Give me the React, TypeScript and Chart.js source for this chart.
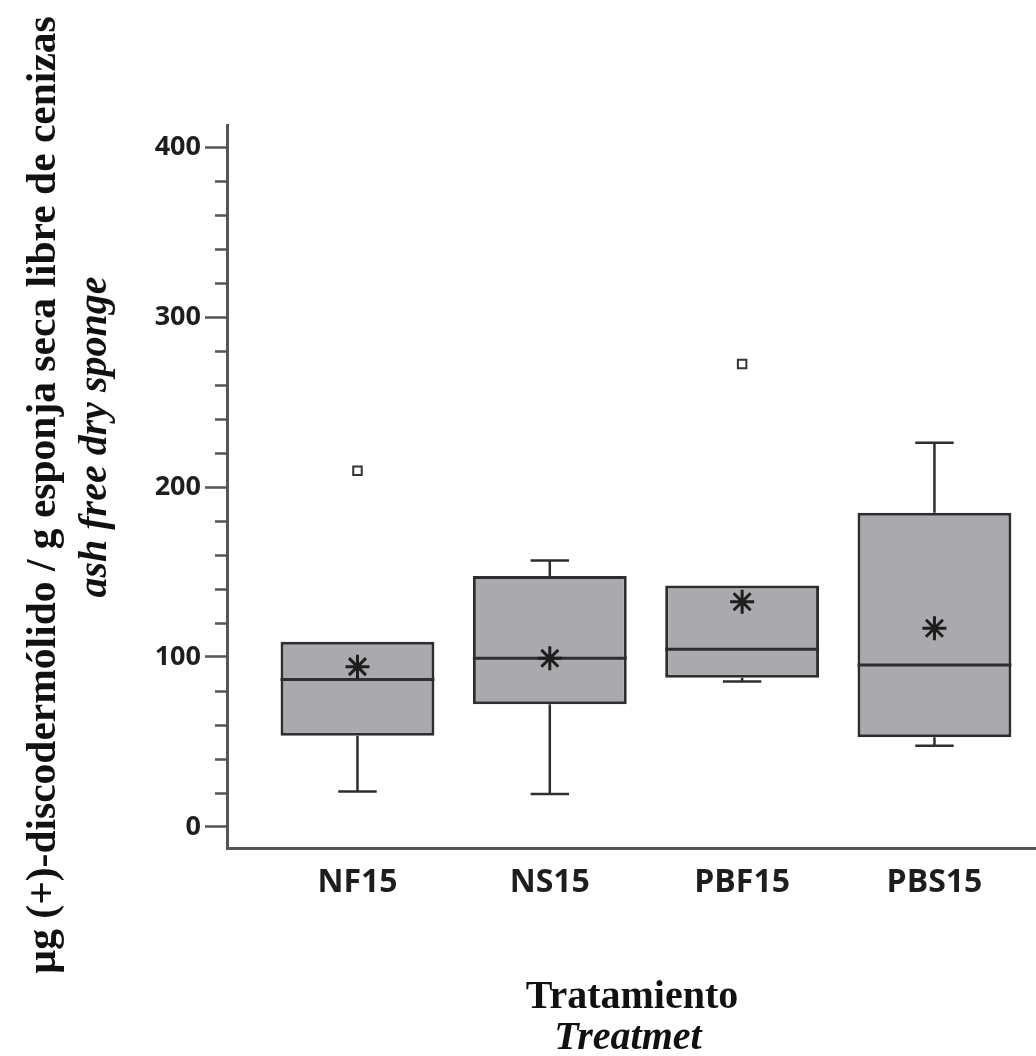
import React, { useEffect, useRef } from "react";
import { Chart, registerables } from "chart.js";

Chart.register(...registerables);

const categories = ["NF15", "NS15", "PBF15", "PBS15"];
const q1Values = [53.7, 72.2, 87.8, 52.8];
const q3Values = [109, 147.6, 142, 184.9];
const medianValues = [86.8, 99.2, 104.5, 95.3];
const whiskerLow = [20.8, 19.4, 85.5, 47.8];
const whiskerHigh = [109, 156.7, 142, 226];
const meanValues = [94.3, 99.2, 132.5, 116.9];
const outlierValues: (number | null)[] = [209.6, null, 272.4, null];
const yMajorTicks = [0, 100, 200, 300, 400];
const yMinorStep = 20;

const yTitle1 = "µg (+)-discodermólido / g esponja seca libre de cenizas";
const yTitle2 = "ash free dry sponge";
const xTitle1 = "Tratamiento";
const xTitle2 = "Treatmet";

const AXIS_COLOR = "#555555";
const LINE_COLOR = "#2e2e2e";

const extrasPlugin = {
  id: "boxExtras",
  beforeDatasetsDraw(chart: any) {
    const ctx = chart.ctx;
    const xs = chart.scales.x;
    const ys = chart.scales.y;
    ctx.save();
    ctx.strokeStyle = LINE_COLOR;
    ctx.lineWidth = 2.5;
    const capHalf = xs.getPixelForValue(1.1) - xs.getPixelForValue(1);
    categories.forEach((_, i) => {
      const cx = xs.getPixelForValue(i + 1);
      const pairs: [number, number][] = [
        [whiskerLow[i], q1Values[i]],
        [whiskerHigh[i], q3Values[i]],
      ];
      pairs.forEach(([w, q]) => {
        if (Math.abs(w - q) < 0.01) return;
        const yw = ys.getPixelForValue(w);
        const yq = ys.getPixelForValue(q);
        ctx.beginPath();
        ctx.moveTo(cx, yw);
        ctx.lineTo(cx, yq);
        ctx.moveTo(cx - capHalf, yw);
        ctx.lineTo(cx + capHalf, yw);
        ctx.stroke();
      });
    });
    ctx.restore();
  },
  afterDatasetDraw(chart: any, args: any) {
    if (args.index !== 0) return;
    const ctx = chart.ctx;
    const ys = chart.scales.y;
    const meta = chart.getDatasetMeta(0);
    ctx.save();
    ctx.strokeStyle = LINE_COLOR;
    ctx.lineWidth = 3;
    meta.data.forEach((bar: any, i: number) => {
      const half = bar.width / 2;
      const y = ys.getPixelForValue(medianValues[i]);
      ctx.beginPath();
      ctx.moveTo(bar.x - half, y);
      ctx.lineTo(bar.x + half, y);
      ctx.stroke();
    });
    ctx.restore();
  },
  afterDraw(chart: any) {
    const ctx = chart.ctx;
    const ys = chart.scales.y;
    const left = chart.chartArea.left;
    ctx.save();
    ctx.strokeStyle = AXIS_COLOR;
    ctx.lineWidth = 2.5;
    const lo = yMajorTicks[0];
    const hi = yMajorTicks[yMajorTicks.length - 1];
    for (let v = lo; v <= hi; v += yMinorStep) {
      if (yMajorTicks.includes(v)) continue;
      const y = Math.round(ys.getPixelForValue(v)) + 0.5;
      ctx.beginPath();
      ctx.moveTo(left - 12, y);
      ctx.lineTo(left, y);
      ctx.stroke();
    }
    ctx.fillStyle = "#111111";
    ctx.textAlign = "center";
    ctx.textBaseline = "middle";
    ctx.save();
    ctx.translate(44, 495);
    ctx.rotate(-Math.PI / 2);
    ctx.font = "bold 41.5px 'Liberation Serif'";
    ctx.fillText(yTitle1, 0, 0);
    ctx.restore();
    ctx.save();
    ctx.translate(96, 437);
    ctx.rotate(-Math.PI / 2);
    ctx.font = "italic bold 40px 'Liberation Serif'";
    ctx.fillText(yTitle2, 0, 0);
    ctx.restore();
    ctx.textBaseline = "alphabetic";
    ctx.font = "bold 40px 'Liberation Serif'";
    ctx.fillText(xTitle1, 632, 1008);
    ctx.font = "italic bold 40px 'Liberation Serif'";
    ctx.fillText(xTitle2, 628, 1049);
    ctx.restore();
  },
};

export default function App() {
  const canvasRef = useRef<HTMLCanvasElement | null>(null);

  useEffect(() => {
    const canvas = canvasRef.current;
    if (!canvas) return;
    const boxData = categories.map((_, i) => ({ x: i + 1, y: [q1Values[i], q3Values[i]] }));
    const meanData = categories.map((_, i) => ({ x: i + 1, y: meanValues[i] }));
    const outlierData = outlierValues
      .map((v, i) => (v === null ? null : { x: i + 1, y: v }))
      .filter((p) => p !== null);

    const chart = new Chart(canvas, {
      type: "bar",
      data: {
        datasets: [
          {
            type: "bar",
            label: "box",
            data: boxData as any,
            backgroundColor: "#aaaaae",
            borderColor: LINE_COLOR,
            borderWidth: 3,
            borderSkipped: false,
            barPercentage: 0.8,
            categoryPercentage: 1,
            order: 3,
          } as any,
          {
            type: "scatter",
            label: "mean",
            data: meanData as any,
            pointStyle: "star",
            radius: 12,
            borderColor: "#1e1e1e",
            backgroundColor: "#1e1e1e",
            borderWidth: 3,
            order: 1,
          } as any,
          {
            type: "scatter",
            label: "outlier",
            data: outlierData as any,
            pointStyle: "rect",
            radius: 6,
            borderColor: "#333333",
            backgroundColor: "#ffffff",
            borderWidth: 2,
            order: 2,
          } as any,
        ],
      },
      options: {
        responsive: false,
        animation: false,
        devicePixelRatio: 1,
        layout: { autoPadding: false, padding: { top: 125, left: 0, right: 0, bottom: 0 } },
        plugins: { legend: { display: false }, tooltip: { enabled: false } },
        scales: {
          x: {
            type: "linear",
            position: "bottom",
            offset: false,
            min: 0.3216,
            max: 4.528,
            afterBuildTicks: (scale: any) => {
              scale.ticks = categories.map((_, i) => ({ value: i + 1 }));
            },
            afterFit: (scale: any) => {
              scale.height = 208;
              scale.paddingLeft = 0;
              scale.paddingRight = 0;
            },
            ticks: {
              autoSkip: false,
              maxRotation: 0,
              padding: 16,
              color: "#1e1e1e",
              font: { family: "'Open Sans'", size: 32, weight: "bold" },
              callback: (v: any) => categories[Math.round(Number(v)) - 1] ?? "",
            },
            grid: { display: false, drawTicks: false },
            border: { display: true, color: AXIS_COLOR, width: 3 },
          },
          y: {
            type: "linear",
            min: -12.4,
            max: 413,
            afterBuildTicks: (scale: any) => {
              const t: any[] = [];
              for (let v = yMajorTicks[0]; v <= yMajorTicks[yMajorTicks.length - 1]; v += yMinorStep) {
                t.push({ value: v });
              }
              scale.ticks = t;
            },
            afterFit: (scale: any) => {
              scale.width = 227;
              scale.paddingTop = 0;
              scale.paddingBottom = 0;
            },
            ticks: {
              autoSkip: false,
              padding: 4,
              color: "#1e1e1e",
              font: { family: "'Open Sans'", size: 27, weight: "bold" },
              callback: (v: any) => (yMajorTicks.includes(Number(v)) ? String(v) : ""),
            },
            grid: {
              drawOnChartArea: false,
              drawTicks: true,
              tickLength: 22,
              tickWidth: 2.5,
              tickColor: (c: any) =>
                c.tick && yMajorTicks.includes(c.tick.value) ? AXIS_COLOR : "rgba(0,0,0,0)",
            },
            border: { display: true, color: AXIS_COLOR, width: 3 },
          },
        },
      } as any,
      plugins: [extrasPlugin],
    });
    return () => chart.destroy();
  }, []);

  return (
    <div style={{ position: "absolute", left: 0, top: 0, width: 1036, height: 1056, background: "#ffffff" }}>
      <canvas ref={canvasRef} width={1036} height={1056} style={{ display: "block" }} />
    </div>
  );
}
